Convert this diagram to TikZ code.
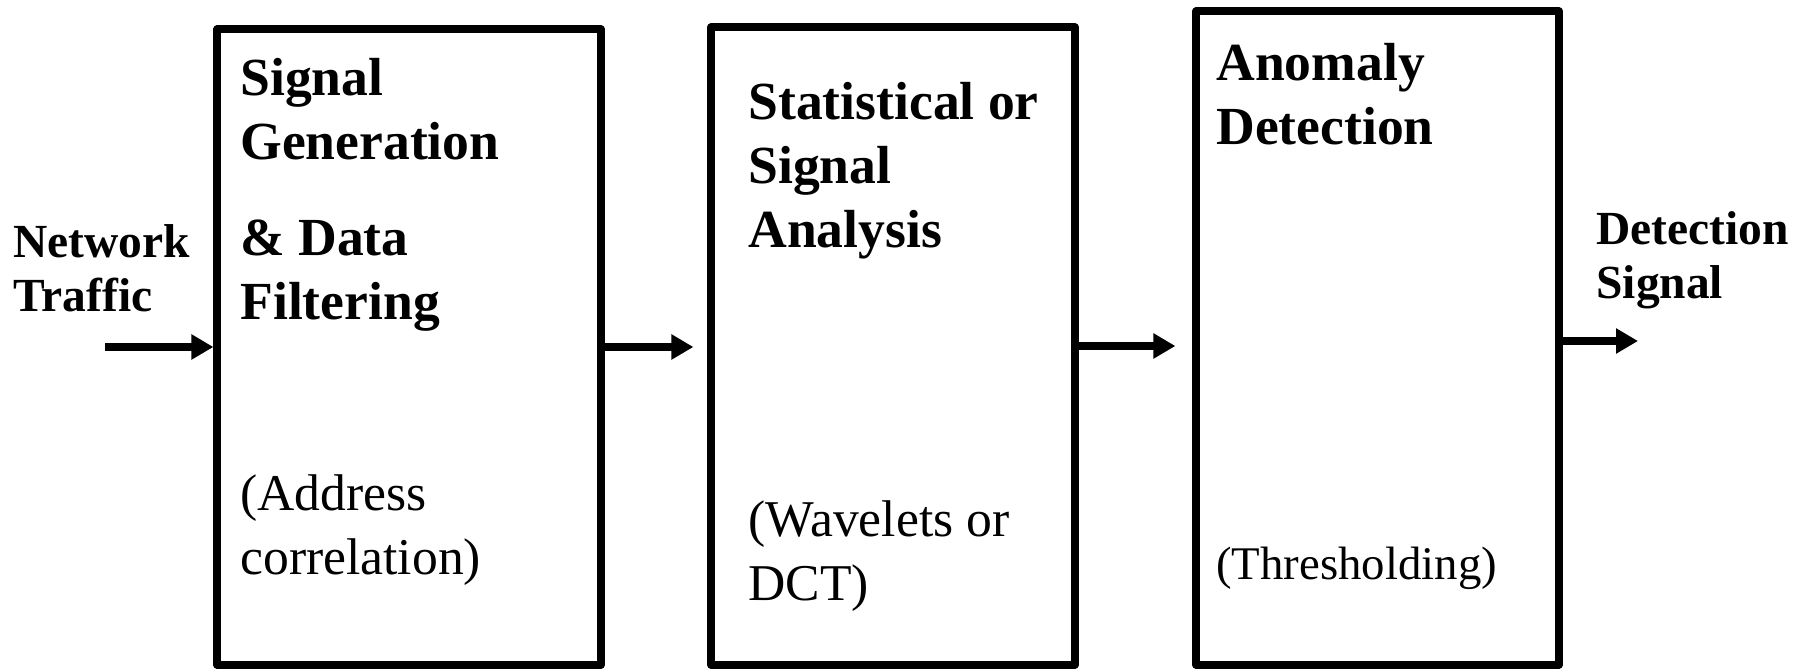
\documentclass[tikz,border=0pt]{standalone}
\usepackage{fontspec}
\setmainfont{Liberation Serif}
\usetikzlibrary{arrows.meta}
\begin{document}
\begin{tikzpicture}[x=0.5pt,y=-0.5pt,
  blockbox/.style={draw,line width=3.6pt,line join=round,inner sep=0pt,rectangle},
  titletext/.style={anchor=base west,align=left,inner sep=0pt,font=\fontsize{26.8pt}{32pt}\selectfont\bfseries},
  subtext/.style={anchor=base west,align=left,inner sep=0pt,font=\fontsize{25.8pt}{32pt}\selectfont},
  outtext/.style={anchor=base west,align=left,inner sep=0pt,font=\fontsize{23.75pt}{27pt}\selectfont\bfseries},
  flow/.style={line width=4pt,-{Triangle[length=11pt,width=12pt]}}]
\useasboundingbox (0,0) rectangle (1800,672);
% blocks
\node[blockbox,minimum width=192pt,minimum height=318pt] (b1) at (409,347) {};
\node[blockbox,minimum width=182pt,minimum height=319pt] (b2) at (893,346) {};
\node[blockbox,minimum width=181.5pt,minimum height=327pt] (b3) at (1377.5,338) {};
% texts (anchored at the baseline of the last line)
\node[outtext] (tin) at (13,312) {Network\\Traffic};
\node[titletext] (t1) at (240,320) {Signal\\Generation\\[16pt]\& Data\\Filtering};
\node[subtext] (s1) at (240,575) {(Address\\correlation)};
\node[titletext] (t2) at (748,248) {Statistical or\\Signal\\Analysis};
\node[subtext] (s2) at (748,601) {(Wavelets or\\DCT)};
\node[titletext] (t3) at (1216,145) {Anomaly\\Detection};
\node[subtext,font=\fontsize{23.4pt}{28pt}\selectfont] (s3) at (1216,580) {(Thresholding)};
\node[outtext] (tout) at (1596,299) {Detection\\Signal};
% connectors
\coordinate (cin) at (105,347);
\coordinate (cout) at (1638,341);
\draw[flow] (cin) -- (cin -| b1.west);
\draw[flow,shorten >=7pt] (b1.east) -- (b1.east -| b2.west);
\draw[flow,shorten >=8.5pt] (b2.east) -- (b2.east -| b3.west);
\draw[flow] (cout -| b3.east) -- (cout);
\end{tikzpicture}
\end{document}
